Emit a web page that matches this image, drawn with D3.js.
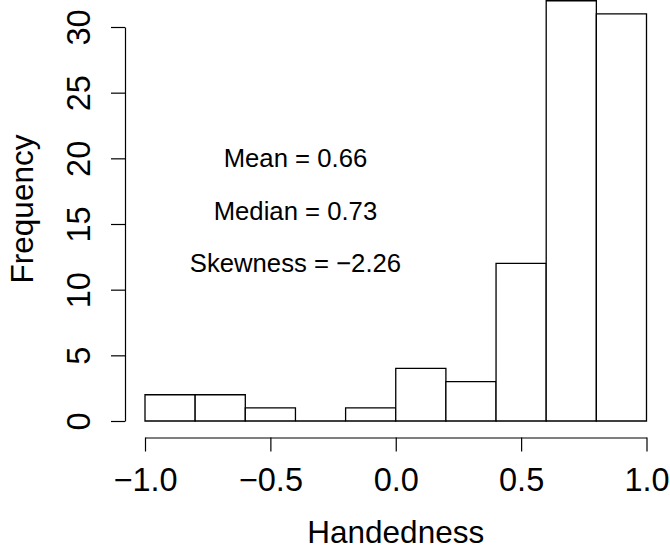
<!DOCTYPE html>
<html>
<head>
<meta charset="utf-8">
<script src="https://cdn.jsdelivr.net/npm/d3@7"></script>
<style>
  body { margin: 0; background: #fff; }
  svg text { font-family: "Liberation Sans", Arial, sans-serif; fill: #000; }
</style>
</head>
<body>
<div id="chart"></div>
<script>
// histogram bins (edges) and counts
const binStarts = [-1.0, -0.8, -0.6, -0.4, -0.2, 0.0, 0.2, 0.4, 0.6, 0.8];
const binWidth = 0.2;
const counts = [2, 2, 1, 0, 1, 4, 3, 12, 32, 31];
const xTicks = [-1.0, -0.5, 0.0, 0.5, 1.0];
const yTicks = [0, 5, 10, 15, 20, 25, 30];
const notes = ["Mean = 0.66", "Median = 0.73", "Skewness = \u22122.26"];
const noteY = [20, 16, 12];
const noteX = -0.4;

const W = 670, H = 550;
const svg = d3.select("#chart").append("svg").attr("width", W).attr("height", H);

const x = d3.scaleLinear().domain([-1, 1]).range([145, 646.5]);
const y = d3.scaleLinear().domain([0, 30]).range([421, 27]);
const fmt = v => (v < 0 ? "\u2212" : "") + Math.abs(v).toFixed(1);

// bars as closed paths so a zero-count bin still shows as a flat line, like R
const barPath = d => {
  const p = d3.path();
  p.rect(x(d.s), y(d.c), x(d.s + binWidth) - x(d.s), y(0) - y(d.c));
  return p.toString();
};
svg.append("g").selectAll("path").data(counts.map((c, i) => ({c, s: binStarts[i]})))
  .enter().append("path")
  .attr("d", barPath)
  .attr("fill", "#fff").attr("stroke", "#000").attr("stroke-width", 1.3);

// x axis
const xa = svg.append("g").attr("transform", "translate(0,437.5)")
  .call(d3.axisBottom(x).tickValues(xTicks).tickFormat(fmt).tickSize(14).tickPadding(16).tickSizeOuter(0));
xa.select(".domain").attr("stroke", "#000").attr("stroke-width", 1.2);
xa.selectAll(".tick line").attr("stroke", "#000").attr("stroke-width", 1.2);
xa.selectAll(".tick text").attr("font-size", 32.5).attr("font-family", "Liberation Sans, Arial, sans-serif").attr("fill", "#000");

// y axis
const ya = svg.append("g").attr("transform", "translate(125,0)")
  .call(d3.axisLeft(y).tickValues(yTicks).tickSize(14).tickSizeOuter(0).tickFormat(d3.format("d")));
ya.select(".domain").attr("stroke", "#000").attr("stroke-width", 1.2);
ya.selectAll(".tick line").attr("stroke", "#000").attr("stroke-width", 1.2);
ya.selectAll(".tick text").attr("font-size", 32.5).attr("font-family", "Liberation Sans, Arial, sans-serif")
  .attr("fill", "#000").attr("x", null).attr("dy", null)
  .attr("text-anchor", "middle")
  .attr("transform", "translate(-35,0) rotate(-90)");

// axis titles
svg.append("text").attr("x", x(0)).attr("y", 543).attr("text-anchor", "middle")
  .attr("font-size", 31.5).text("Handedness");
svg.append("text").attr("transform", "translate(33,209) rotate(-90)").attr("text-anchor", "middle")
  .attr("font-size", 31.5).text("Frequency");

// annotations
svg.append("g").selectAll("text").data(notes).enter().append("text")
  .attr("x", x(noteX)).attr("y", (d, i) => y(noteY[i]) + 9)
  .attr("text-anchor", "middle").attr("font-size", 25.7).text(d => d);
</script>
</body>
</html>
